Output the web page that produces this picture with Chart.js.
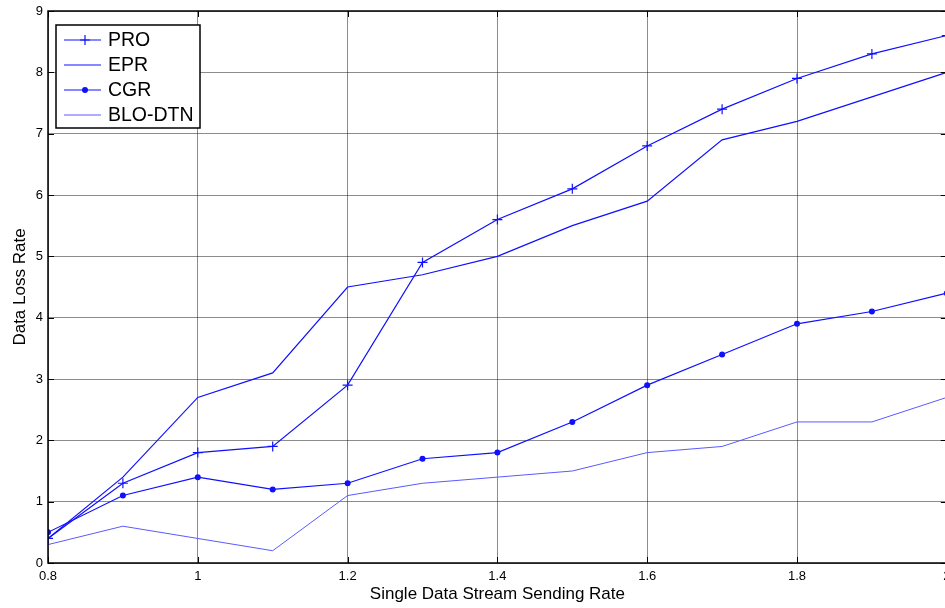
<!DOCTYPE html>
<html>
<head>
<meta charset="utf-8">
<script src="https://cdn.jsdelivr.net/npm/chart.js@4.4.1/dist/chart.umd.min.js"></script>
<style>
    html, body { margin: 0; padding: 0; background: #fff; overflow: hidden; }
    #wrap { width: 945px; height: 608px; overflow: hidden; position: relative; }
    #chartfield { position: absolute; left: 0; top: 0; }
</style>
</head>
<body>
<div id="wrap"><canvas id="chartfield" width="953" height="608"></canvas></div>
<script>
const rates = [0.8, 0.9, 1.0, 1.1, 1.2, 1.3, 1.4, 1.5, 1.6, 1.7, 1.8, 1.9, 2.0];
const proValues = [0.4, 1.3, 1.8, 1.9, 2.9, 4.9, 5.6, 6.1, 6.8, 7.4, 7.9, 8.3, 8.6];
const eprValues = [0.4, 1.4, 2.7, 3.1, 4.5, 4.7, 5.0, 5.5, 5.9, 6.9, 7.2, 7.6, 8.0];
const cgrValues = [0.5, 1.1, 1.4, 1.2, 1.3, 1.7, 1.8, 2.3, 2.9, 3.4, 3.9, 4.1, 4.4];
const bloValues = [0.3, 0.6, 0.4, 0.2, 1.1, 1.3, 1.4, 1.5, 1.8, 1.9, 2.3, 2.3, 2.7];
const xTicks = [0.8, 1, 1.2, 1.4, 1.6, 1.8, 2];
const yTicks = [0, 1, 2, 3, 4, 5, 6, 7, 8, 9];

const FONT = "'Liberation Sans', Arial, sans-serif";

function toPoints(values) {
    return rates.map((r, i) => ({ x: r, y: values[i] }));
}

// black box round the plot plus matlab-style inner ticks
const boxPlugin = {
    id: "box",
    afterDraw(chart) {
        const { ctx, chartArea: a, scales } = chart;
        ctx.save();
        ctx.strokeStyle = "#000";
        ctx.lineWidth = 1.5;
        ctx.strokeRect(a.left, a.top, a.right - a.left, a.bottom - a.top);
        ctx.lineWidth = 1;
        yTicks.forEach((v) => {
            const y = Math.round(scales.y.getPixelForValue(v)) + 0.5;
            ctx.beginPath();
            ctx.moveTo(a.left, y);
            ctx.lineTo(a.left + 6, y);
            ctx.moveTo(a.right, y);
            ctx.lineTo(a.right - 6, y);
            ctx.stroke();
        });
        xTicks.forEach((v) => {
            const x = Math.round(scales.x.getPixelForValue(v)) + 0.5;
            ctx.beginPath();
            ctx.moveTo(x, a.bottom);
            ctx.lineTo(x, a.bottom - 6);
            ctx.moveTo(x, a.top);
            ctx.lineTo(x, a.top + 6);
            ctx.stroke();
        });
        ctx.restore();
    },
};

// legend box in the upper left of the plot
const legendPlugin = {
    id: "boxLegend",
    afterDraw(chart) {
        const { ctx, chartArea: a } = chart;
        const x0 = a.left + 8, y0 = 25, w = 144, h = 103;
        ctx.save();
        ctx.fillStyle = "#fff";
        ctx.fillRect(x0, y0, w, h);
        ctx.strokeStyle = "#000";
        ctx.lineWidth = 1.5;
        ctx.strokeRect(x0, y0, w, h);
        ctx.font = "19.5px " + FONT;
        ctx.textBaseline = "middle";
        chart.data.datasets.forEach((ds, i) => {
            const y = y0 + 15 + i * 25;
            ctx.strokeStyle = ds.borderColor;
            ctx.lineWidth = ds.borderWidth;
            ctx.beginPath();
            ctx.moveTo(x0 + 8, y);
            ctx.lineTo(x0 + 45, y);
            ctx.stroke();
            const mx = x0 + 29;
            if (ds.pointStyle === "cross") {
                ctx.beginPath();
                ctx.moveTo(mx - 5, y);
                ctx.lineTo(mx + 5, y);
                ctx.moveTo(mx, y - 5);
                ctx.lineTo(mx, y + 5);
                ctx.stroke();
            } else if (ds.pointStyle === "circle" && ds.pointRadius > 0) {
                ctx.fillStyle = ds.borderColor;
                ctx.beginPath();
                ctx.arc(mx, y, 3, 0, Math.PI * 2);
                ctx.fill();
            }
            ctx.fillStyle = "#000";
            ctx.fillText(ds.label, x0 + 52, y + 1);
        });
        ctx.restore();
    },
};

function drawChart(canvas) {
    return new Chart(canvas, {
        type: "line",
        data: {
            datasets: [
                {
                    label: "PRO",
                    data: toPoints(proValues),
                    borderColor: "#1010ff",
                    borderWidth: 1.2,
                    pointStyle: "cross",
                    pointRadius: 5,
                    pointBorderColor: "#1010ff",
                    pointBorderWidth: 1.2,
                },
                {
                    label: "EPR",
                    data: toPoints(eprValues),
                    borderColor: "#1010ff",
                    borderWidth: 1.2,
                    pointRadius: 0,
                },
                {
                    label: "CGR",
                    data: toPoints(cgrValues),
                    borderColor: "#1010ff",
                    backgroundColor: "#1010ff",
                    borderWidth: 1.2,
                    pointStyle: "circle",
                    pointRadius: 3,
                    pointBorderWidth: 0,
                },
                {
                    label: "BLO-DTN",
                    data: toPoints(bloValues),
                    borderColor: "#5a5aff",
                    borderWidth: 1,
                    pointRadius: 0,
                },
            ],
        },
        options: {
            responsive: false,
            animation: false,
            layout: { padding: { top: 11, right: 1, left: 0, bottom: 0 } },
            plugins: {
                legend: { display: false },
                tooltip: { enabled: false },
            },
            elements: { line: { tension: 0, fill: false } },
            scales: {
                x: {
                    type: "linear",
                    min: 0.8,
                    max: 2.0,
                    afterBuildTicks: (axis) => {
                        axis.ticks = xTicks.map((v) => ({ value: v }));
                    },
                    afterFit: (axis) => {
                        axis.height = 45;
                        axis.paddingLeft = 0;
                        axis.paddingRight = 0;
                    },
                    ticks: {
                        color: "#000",
                        font: { family: FONT, size: 13 },
                        padding: 6,
                        maxRotation: 0,
                        callback: (v) => String(v),
                    },
                    grid: {
                        color: "rgba(0,0,0,0.45)",
                        lineWidth: 1,
                        drawTicks: false,
                    },
                    border: { display: false },
                    title: {
                        display: true,
                        text: "Single Data Stream Sending Rate",
                        color: "#000",
                        font: { family: FONT, size: 17 },
                        padding: { top: 0, bottom: 3 },
                    },
                },
                y: {
                    min: 0,
                    max: 9,
                    afterBuildTicks: (axis) => {
                        axis.ticks = yTicks.map((v) => ({ value: v }));
                    },
                    afterFit: (axis) => {
                        axis.width = 48;
                        axis.paddingTop = 0;
                        axis.paddingBottom = 0;
                    },
                    ticks: {
                        color: "#000",
                        font: { family: FONT, size: 13 },
                        padding: 5,
                    },
                    grid: {
                        color: "rgba(0,0,0,0.45)",
                        lineWidth: 1,
                        drawTicks: false,
                    },
                    border: { display: false },
                    title: {
                        display: true,
                        text: "Data Loss Rate",
                        color: "#000",
                        font: { family: FONT, size: 17 },
                        padding: { top: 10, bottom: 0 },
                    },
                },
            },
        },
        plugins: [boxPlugin, legendPlugin],
    });
}

document.addEventListener("DOMContentLoaded", () => {
    const chartCanvas = document.querySelector("#chartfield").getContext("2d");
    drawChart(chartCanvas);
});
</script>
</body>
</html>
